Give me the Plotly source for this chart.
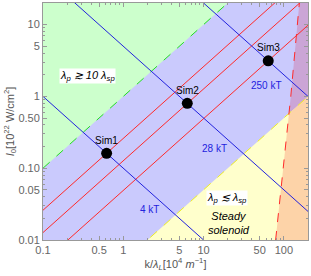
import numpy as np
import plotly.graph_objects as go

# ---- data ----
x_range = [0.1, 200]          # k/lambda_L [1e4 1/m]
y_range = [0.01, 20]          # I0 [1e22 W/cm^2]
x_ticks = [0.1, 0.5, 1, 5, 10, 50, 100]
x_ticklabels = ["0.1", "0.5", "1", "5", "10", "50", "100"]
y_ticks = [0.01, 0.05, 0.1, 0.5, 1, 5, 10]
y_ticklabels = ["0.01", "0.05", "0.10", "0.50", "1", "5", "10"]

green_coef = 1.0      # boundary lambda_p = 10 lambda_sp : I = c*k
yellow_coef = 0.005   # boundary lambda_p = lambda_sp    : I = c*k
red_coefs = [0.26, 0.127, 0.049]      # I = c*k
blue_coefs = [0.1, 5.0, 200.0]        # I = c/k
blue_labels = ["4 kT", "28 kT", "250 kT"]
blue_label_k = [2.1, 13.5, 61]
blue_label_I = [0.027, 0.19, 1.42]
dash_k = [79, 122, 156]               # red dashed boundary
dash_I = [0.01, 1, 20]
sim_names = ["Sim1", "Sim2", "Sim3"]
sim_k = [0.62, 6.27, 63.9]
sim_I = [0.161, 0.80, 3.13]

C_LAV = "#cacafd"
C_GREEN = "#ccffcc"
C_YEL = "#ffffcc"
C_ORANGE = "#fdd3a8"
C_PURPLE = "#cba5d6"
C_RED = "#ff2a2a"
C_BLUE = "#2222dd"

x0, x1 = x_range
y0, y1 = y_range
kk = np.logspace(np.log10(x0), np.log10(x1), 60)

fig = go.Figure()

# green region
fig.add_trace(go.Scatter(x=[x0, x1, x0], y=[green_coef * x0, green_coef * x1, green_coef * x1],
                         fill="toself", fillcolor=C_GREEN, mode="none", hoverinfo="skip"))
# yellow region
ky0 = y0 / yellow_coef
fig.add_trace(go.Scatter(x=[ky0, x1, x1], y=[y0, yellow_coef * x1, y0],
                         fill="toself", fillcolor=C_YEL, mode="none", hoverinfo="skip"))

# intersection of dashed boundary with yellow boundary
lk = np.log10(dash_k)
lI = np.log10(dash_I)
lIs = np.linspace(lI[0], lI[-1], 4001)
lks = np.interp(lIs, lI, lk)
i = int(np.argmin(np.abs(lIs - (np.log10(yellow_coef) + lks))))
ck, cI = 10 ** lks[i], 10 ** lIs[i]

above = [(k, I) for k, I in zip(dash_k, dash_I) if I > cI]
below = [(k, I) for k, I in zip(dash_k, dash_I) if I < cI][::-1]
px = [ck] + [p[0] for p in above] + [x1, x1]
py = [cI] + [p[1] for p in above] + [y1, yellow_coef * x1]
fig.add_trace(go.Scatter(x=px, y=py, fill="toself", fillcolor=C_PURPLE, mode="none", hoverinfo="skip"))
ox = [ck] + [p[0] for p in below] + [x1, x1]
oy = [cI] + [p[1] for p in below] + [y0, yellow_coef * x1]
fig.add_trace(go.Scatter(x=ox, y=oy, fill="toself", fillcolor=C_ORANGE, mode="none", hoverinfo="skip"))

# boundary lines
fig.add_trace(go.Scatter(x=kk, y=green_coef * kk, mode="lines",
                         line=dict(color="#22dd22", width=1, dash="dash")))
fig.add_trace(go.Scatter(x=kk, y=yellow_coef * kk, mode="lines",
                         line=dict(color="#eeee22", width=1, dash="dash")))
fig.add_trace(go.Scatter(x=dash_k, y=dash_I, mode="lines",
                         line=dict(color=C_RED, width=1, dash="dash")))

for c in red_coefs:
    fig.add_trace(go.Scatter(x=kk, y=c * kk, mode="lines", line=dict(color=C_RED, width=1)))
for c in blue_coefs:
    fig.add_trace(go.Scatter(x=kk, y=c / kk, mode="lines", line=dict(color=C_BLUE, width=1)))

fig.add_trace(go.Scatter(x=sim_k, y=sim_I, mode="markers",
                         marker=dict(color="black", size=11)))

ann = []
for name, k, I in zip(sim_names, sim_k, sim_I):
    ann.append(dict(x=np.log10(k), y=np.log10(I), text=name, showarrow=False,
                    yshift=13, xshift=0, font=dict(size=10, color="black")))
for t, k, I in zip(blue_labels, blue_label_k, blue_label_I):
    ann.append(dict(x=np.log10(k), y=np.log10(I), text=t, showarrow=False,
                    font=dict(size=10, color=C_BLUE)))
ann.append(dict(x=np.log10(0.36), y=np.log10(1.9),
                text="<i>λ<sub>p</sub> ≳ 10 λ<sub>sp</sub></i>", showarrow=False,
                bgcolor="white", borderpad=0, font=dict(size=11, color="black")))
ann.append(dict(x=np.log10(19.6), y=np.log10(0.038),
                text="<i>λ<sub>p</sub> ≲ λ<sub>sp</sub></i>", showarrow=False,
                bgcolor="white", borderpad=0, font=dict(size=11, color="black")))
ann.append(dict(x=np.log10(20.5), y=np.log10(0.0175),
                text="<i>Steady<br>solenoid</i>", showarrow=False,
                font=dict(size=11, color="black")))

minor_x = [m * 10.0 ** d for d in range(-1, 3) for m in range(2, 10) if x0 < m * 10.0 ** d < x1]
minor_y = [m * 10.0 ** d for d in range(-2, 2) for m in range(2, 10) if y0 < m * 10.0 ** d < y1]

axis_common = dict(type="log", showgrid=False, zeroline=False, showline=True,
                   linecolor="#999999", linewidth=1, mirror="allticks",
                   ticks="inside", ticklen=4, tickcolor="#999999", automargin=False,
                   tickfont=dict(size=11, color="#666666"))

fig.update_layout(
    width=311, height=276,
    margin=dict(l=43, r=3, t=3, b=36, autoexpand=False),
    plot_bgcolor=C_LAV, paper_bgcolor="white",
    showlegend=False,
    font=dict(family="Liberation Sans, Arial, sans-serif"),
    xaxis=dict(**axis_common, range=[np.log10(x0), np.log10(x1)],
               tickvals=x_ticks, ticktext=x_ticklabels,
               minor=dict(tickvals=minor_x, ticks="inside", ticklen=2, tickcolor="#999999"),
               title=dict(text="k/<i>λ<sub>L</sub></i>[10<sup>4</sup> <i>m</i><sup>−1</sup>]",
                          font=dict(size=11, color="#555555"), standoff=0)),
    yaxis=dict(**axis_common, range=[np.log10(y0), np.log10(y1)],
               tickvals=y_ticks, ticktext=y_ticklabels,
               minor=dict(tickvals=minor_y, ticks="inside", ticklen=2, tickcolor="#999999"),
               title=dict(text="<i>I</i><sub>0</sub>[10<sup>22</sup> W/cm<sup>2</sup>]",
                          font=dict(size=11, color="#555555"), standoff=0)),
    annotations=ann,
)

fig.write_html("out.html", config={"displayModeBar": False},
               post_script="document.body.style.margin='0';")
